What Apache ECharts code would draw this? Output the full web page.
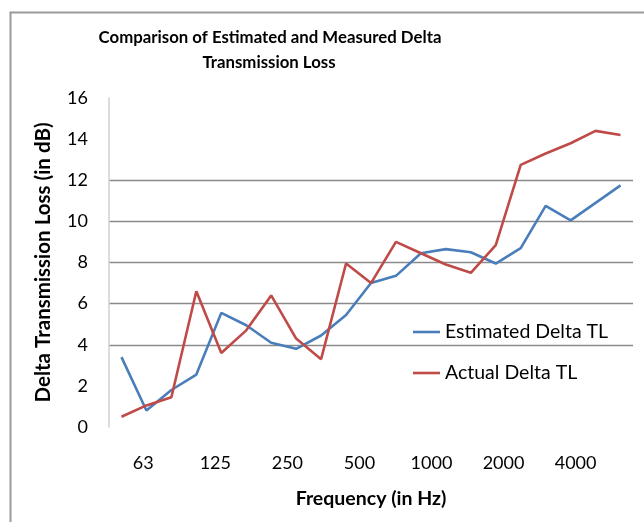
<!DOCTYPE html>
<html>
<head>
<meta charset="utf-8">
<script src="https://cdn.jsdelivr.net/npm/echarts@6/dist/echarts.min.js"></script>
<style>
html,body{margin:0;padding:0;background:#fff;}
#chart{width:644px;height:522px;}
</style>
</head>
<body>
<div id="chart"></div>
<script>
// 1/3-octave band centre frequencies (Hz)
const categories = ['50','63','80','100','125','160','200','250','315','400','500','630','800','1000','1250','1600','2000','2500','3150','4000','5000'];
const estimatedDeltaTL = [3.4,0.8,1.8,2.55,5.55,4.95,4.1,3.8,4.45,5.45,7.0,7.35,8.45,8.65,8.5,7.95,8.7,10.75,10.05,10.9,11.75];
const actualDeltaTL = [0.5,1.05,1.45,6.6,3.6,4.7,6.4,4.3,3.3,7.95,7.0,9.0,8.45,7.9,7.5,8.85,12.75,13.3,13.8,14.4,14.2];
const xTickLabels = ['63','125','250','500','1000','2000','4000'];
const yTicks = [0,2,4,6,8,10,12,14,16];
const gridVisible = [false,false,true,true,true,true,true,false,false];

const FONT = 'Lato, "Open Sans", sans-serif';
const chart = echarts.init(document.getElementById('chart'), null, {renderer:'canvas'});

chart.setOption({
  animation:false,
  backgroundColor:'#fff',
  grid:{left:109,right:11,top:98,bottom:95,containLabel:false},
  graphic:[
    {type:'polyline',silent:true,shape:{points:[[10.5,522],[10.5,12.5],[644,12.5]]},style:{stroke:'#9a9a9a',lineWidth:2,fill:null}},
    {type:'text',silent:true,x:270,y:38,style:{text:'Comparison of Estimated and Measured Delta',textAlign:'center',textVerticalAlign:'middle',font:'bold 16.8px '+FONT,fill:'#000'}},
    {type:'text',silent:true,x:269,y:63,style:{text:'Transmission Loss',textAlign:'center',textVerticalAlign:'middle',font:'bold 16.8px '+FONT,fill:'#000'}}
  ],
  legend:{
    orient:'vertical',left:408,top:316,itemWidth:27,itemHeight:2.6,itemGap:19,icon:'rect',
    textStyle:{fontFamily:FONT,fontSize:19.5,color:'#000',lineHeight:22},
    data:['Estimated Delta TL','Actual Delta TL']
  },
  xAxis:[
    {type:'category',data:categories,boundaryGap:true,
     axisLine:{show:false},axisTick:{show:false},axisLabel:{show:false},splitLine:{show:false}},
    {type:'value',position:'bottom',min:-0.476,max:6.797,
     axisLine:{show:false},axisTick:{show:false},splitLine:{show:false},
     axisLabel:{customValues:xTickLabels.map((_,i)=>i),formatter:v=>xTickLabels[Math.round(v)]||'',
       fontFamily:FONT,fontSize:18,color:'#000',margin:27},
     name:'Frequency (in Hz)',nameLocation:'middle',nameGap:62,
     nameTextStyle:{fontFamily:FONT,fontSize:19.5,fontWeight:'bold',color:'#000'}}
  ],
  yAxis:{
    type:'value',min:yTicks[0],max:yTicks[yTicks.length-1],interval:2,
    axisLine:{show:true,onZero:false,lineStyle:{color:'#d0d0d0',width:1.5}},
    axisTick:{show:false},
    axisLabel:{fontFamily:FONT,fontSize:18,color:'#000',margin:21},
    splitLine:{show:true,lineStyle:{color:gridVisible.map(v=>v?'#8a8a8a':'rgba(0,0,0,0)'),width:1.3}},
    name:'Delta Transmission Loss (in dB)',nameLocation:'middle',nameGap:55,nameRotate:90,
    nameTextStyle:{fontFamily:FONT,fontSize:20.5,fontWeight:'bold',color:'#000'}
  },
  series:[
    {name:'Estimated Delta TL',type:'line',xAxisIndex:0,data:estimatedDeltaTL,symbol:'none',
     lineStyle:{color:'#4A7EBB',width:2.6},itemStyle:{color:'#4A7EBB'}},
    {name:'Actual Delta TL',type:'line',xAxisIndex:0,data:actualDeltaTL,symbol:'none',
     lineStyle:{color:'#BE4B48',width:2.6},itemStyle:{color:'#BE4B48'}}
  ]
});
</script>
</body>
</html>
